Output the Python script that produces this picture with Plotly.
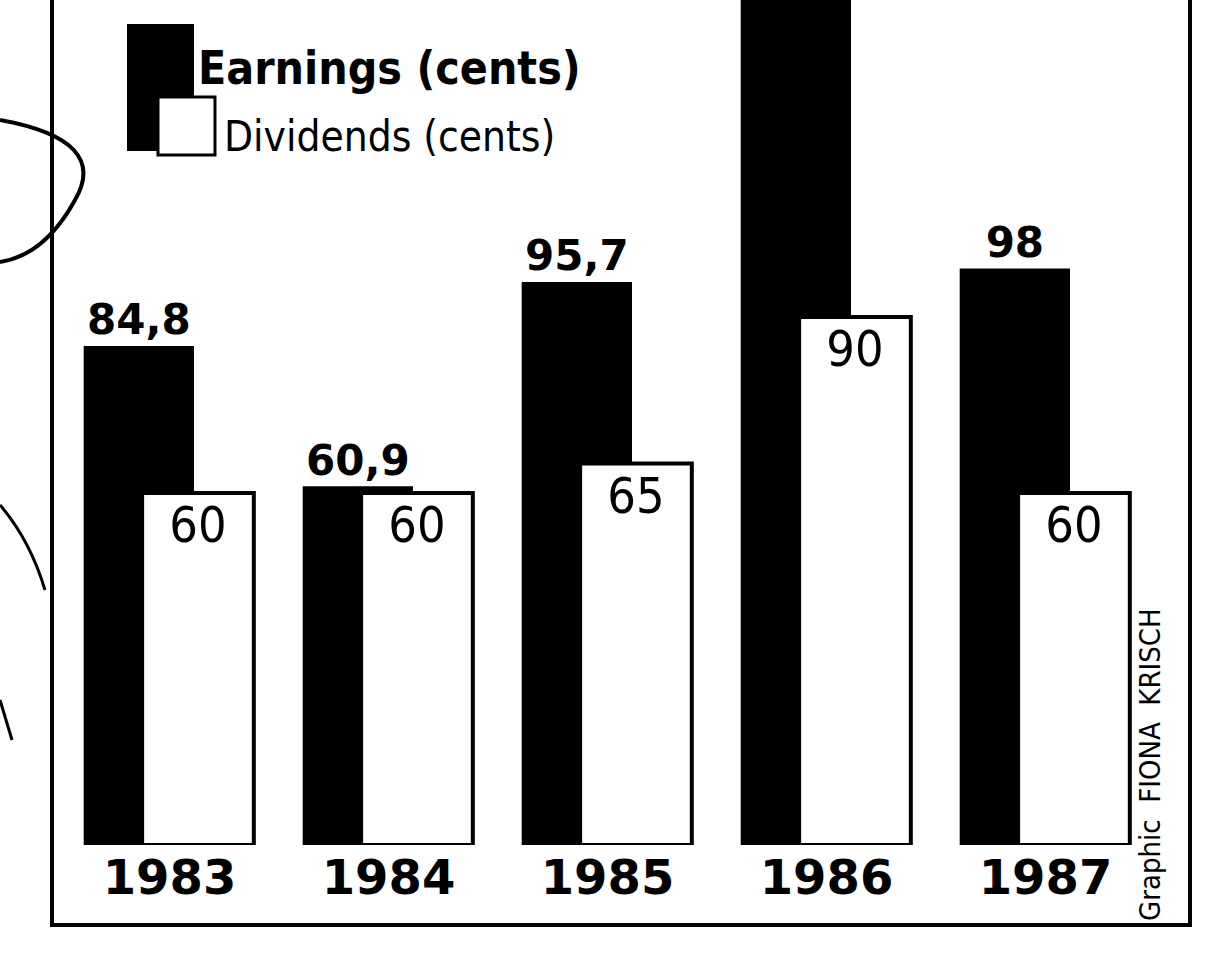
import plotly.graph_objects as go

years = ["1983", "1984", "1985", "1986", "1987"]
earnings = [84.8, 60.9, 95.7, 155.0, 98.0]   # 1986 runs off the top of the clipping
dividends = [60, 60, 65, 90, 60]
legend_labels = ["Earnings (cents)", "Dividends (cents)"]
credit = "Graphic  FIONA  KRISCH"

YMAX = 144
W, H = 1222, 978
ML, MR, MT, MB = 60, 67, 0, 133


def fmt(v):
    s = ("%.1f" % v).rstrip("0").rstrip(".")
    return s.replace(".", ",")


earn_text = [fmt(v) if v < YMAX else "" for v in earnings]
div_text = [fmt(v) for v in dividends]

BOLD = "DejaVu Sans, Liberation Sans, Arial"
NARROW = "Liberation Sans Narrow, DejaVu Sans Condensed, Arial Narrow, sans-serif"

fig = go.Figure()
fig.add_trace(go.Bar(
    x=years, y=earnings, name=legend_labels[0],
    width=0.49, offset=-0.385,
    marker=dict(color="black", line=dict(color="black", width=3)),
    text=earn_text, textposition="outside", cliponaxis=True,
    textfont=dict(family=BOLD, size=42, color="black", weight="bold"),
))
fig.add_trace(go.Bar(
    x=years, y=dividends, name=legend_labels[1],
    width=0.51, offset=-0.125,
    marker=dict(color="white", line=dict(color="black", width=4)),
    text=div_text, textposition="inside", insidetextanchor="end",
    textfont=dict(family=NARROW, size=50, color="black"),
))

pw = W - ML - MR
ph = H - MT - MB


def px(x):
    return (x - ML) / pw


def py(y):
    return (H - MB - y) / ph


shapes = [
    # frame
    dict(type="rect", xref="paper", yref="paper",
         x0=px(52), x1=px(1190), y0=py(925), y1=py(-20),
         line=dict(color="black", width=4), fillcolor="rgba(0,0,0,0)", layer="below"),
    # legend swatches
    dict(type="rect", xref="paper", yref="paper",
         x0=px(128), x1=px(193), y0=py(150), y1=py(25),
         line=dict(color="black", width=2), fillcolor="black"),
    dict(type="rect", xref="paper", yref="paper",
         x0=px(158), x1=px(215), y0=py(155), y1=py(97),
         line=dict(color="black", width=3), fillcolor="white"),
    # hand-drawn scribbles on the left margin
    dict(type="path", xref="paper", yref="paper",
         path="M %f,%f Q %f,%f %f,%f Q %f,%f %f,%f" % (
             px(0), py(120), px(110), py(140), px(75), py(200),
             px(45), py(255), px(0), py(262)),
         line=dict(color="black", width=4)),
    dict(type="path", xref="paper", yref="paper",
         path="M %f,%f Q %f,%f %f,%f" % (
             px(0), py(505), px(30), py(540), px(45), py(590)),
         line=dict(color="black", width=3)),
    dict(type="path", xref="paper", yref="paper",
         path="M %f,%f L %f,%f" % (px(0), py(700), px(12), py(740)),
         line=dict(color="black", width=3)),
]

annotations = [
    dict(text="<b>" + legend_labels[0] + "</b>", xref="paper", yref="paper",
         x=px(196), y=py(68), xanchor="left", yanchor="middle", showarrow=False,
         font=dict(family="DejaVu Sans Condensed, DejaVu Sans", size=46, color="black")),
    dict(text=legend_labels[1], xref="paper", yref="paper",
         x=px(222), y=py(137), xanchor="left", yanchor="middle", showarrow=False,
         font=dict(family=NARROW, size=42, color="black")),
    dict(text=credit, xref="paper", yref="paper",
         x=px(1150), y=py(765), xanchor="center", yanchor="middle", showarrow=False,
         textangle=-90,
         font=dict(family=NARROW, size=29, color="black")),
]

fig.update_layout(
    width=W, height=H,
    margin=dict(l=ML, r=MR, t=MT, b=MB),
    paper_bgcolor="white", plot_bgcolor="white",
    barmode="overlay", showlegend=False,
    shapes=shapes, annotations=annotations,
    xaxis=dict(type="category", range=[-0.5, 4.5], showgrid=False, zeroline=False,
               showline=False, ticks="",
               tickfont=dict(family=BOLD, size=48, color="black", weight="bold")),
    yaxis=dict(range=[0, YMAX], visible=False, showgrid=False, zeroline=False),
)

fig.write_html("out.html", config={"displayModeBar": False},
               post_script="document.body.style.margin='0';")
